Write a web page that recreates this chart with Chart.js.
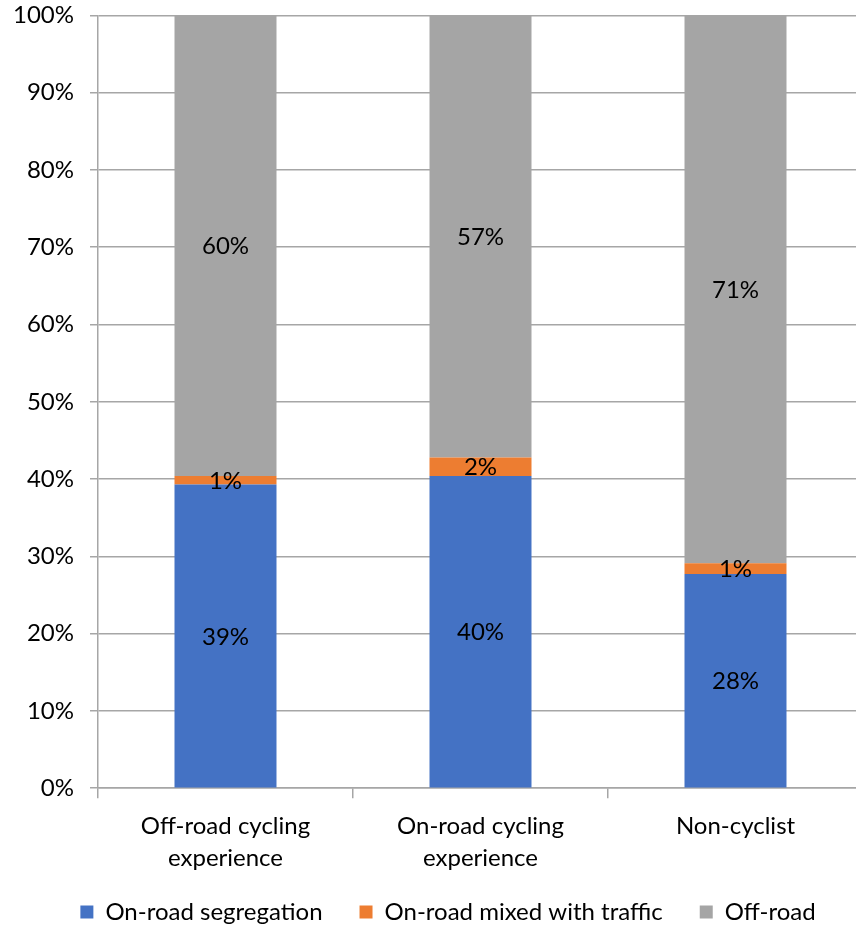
<!DOCTYPE html>
<html>
<head>
<meta charset="utf-8">
<script src="https://cdn.jsdelivr.net/npm/chart.js@4/dist/chart.umd.min.js"></script>
<style>
  html, body { margin: 0; padding: 0; background: #fff; overflow: hidden; }
  #wrap { width: 880px; height: 949px; position: relative; margin-left: -17px; margin-top: -15px; }
</style>
</head>
<body>
<div id="wrap"><canvas id="grafico"></canvas></div>
<script>
// dados (percentuais empilhados a 100%)
const categorias = [['Off-road cycling', 'experience'], ['On-road cycling', 'experience'], 'Non-cyclist'];
const segregacao = [39.3, 40.4, 27.7];
const misto = [1.1, 2.4, 1.4];
const foraEstrada = [59.6, 57.2, 70.9];
const ticksY = [0, 10, 20, 30, 40, 50, 60, 70, 80, 90, 100];

const FONTE = "Lato, 'Open Sans', sans-serif";
const CINZA = '#a6a6a6';
const APERTO = 23; // aproxima a legenda dos rótulos do eixo x

// rótulo do valor no meio de cada segmento
const rotulos = {
  id: 'rotulos',
  afterDatasetsDraw(chart) {
    const ctx = chart.ctx;
    ctx.save();
    ctx.font = '24px ' + FONTE;
    ctx.fillStyle = '#000';
    ctx.textAlign = 'center';
    ctx.textBaseline = 'middle';
    chart.data.datasets.forEach((ds, i) => {
      const meta = chart.getDatasetMeta(i);
      meta.data.forEach((bar, j) => {
        const { x, y, base } = bar.getProps(['x', 'y', 'base'], true);
        ctx.fillText(Math.round(ds.data[j]) + '%', x, (y + base) / 2 + 1);
      });
    });
    ctx.restore();
  }
};

// legenda um pouco à direita e eixo x sem cortar a 2ª linha
const ajustes = {
  id: 'ajustes',
  afterLayout(chart) {
    if (chart.legend) { chart.legend.left += 18; chart.legend.right += 18; }
    chart.scales.x.bottom += APERTO;
  }
};

new Chart(document.getElementById('grafico'), {
  type: 'bar',
  data: {
    labels: categorias,
    datasets: [
      { label: 'On-road segregation', data: segregacao, backgroundColor: '#4472c4' },
      { label: 'On-road mixed with traffic', data: misto, backgroundColor: '#ed7d31' },
      { label: 'Off-road', data: foraEstrada, backgroundColor: '#a5a5a5' }
    ]
  },
  plugins: [rotulos, ajustes],
  options: {
    responsive: true, maintainAspectRatio: false, animation: false,
    barPercentage: 1, categoryPercentage: 0.4,
    layout: { padding: { left: 14, top: 2, right: 0, bottom: 0 } },
    plugins: {
      legend: {
        position: 'bottom',
        labels: { boxWidth: 13, boxHeight: 13, padding: 37, color: '#000', font: { family: FONTE, size: 24 } }
      },
      tooltip: { enabled: false }
    },
    scales: {
      x: {
        stacked: true,
        grid: { offset: true, drawOnChartArea: false, color: CINZA, lineWidth: 1.5, tickLength: 10 },
        border: { color: CINZA, width: 1.5 },
        ticks: { color: '#000', font: { family: FONTE, size: 24, lineHeight: 1.33 }, padding: 12, maxRotation: 0 },
        afterFit: axis => { axis.height -= APERTO; }
      },
      y: {
        stacked: true, min: 0, max: 100,
        afterBuildTicks: axis => { axis.ticks = ticksY.map(v => ({ value: v })); },
        grid: { color: CINZA, lineWidth: 1.5, tickLength: 8 },
        border: { color: CINZA, width: 1.5 },
        ticks: { color: '#000', font: { family: FONTE, size: 24 }, padding: 16, callback: v => v + '%' }
      }
    }
  }
});
</script>
</body>
</html>
